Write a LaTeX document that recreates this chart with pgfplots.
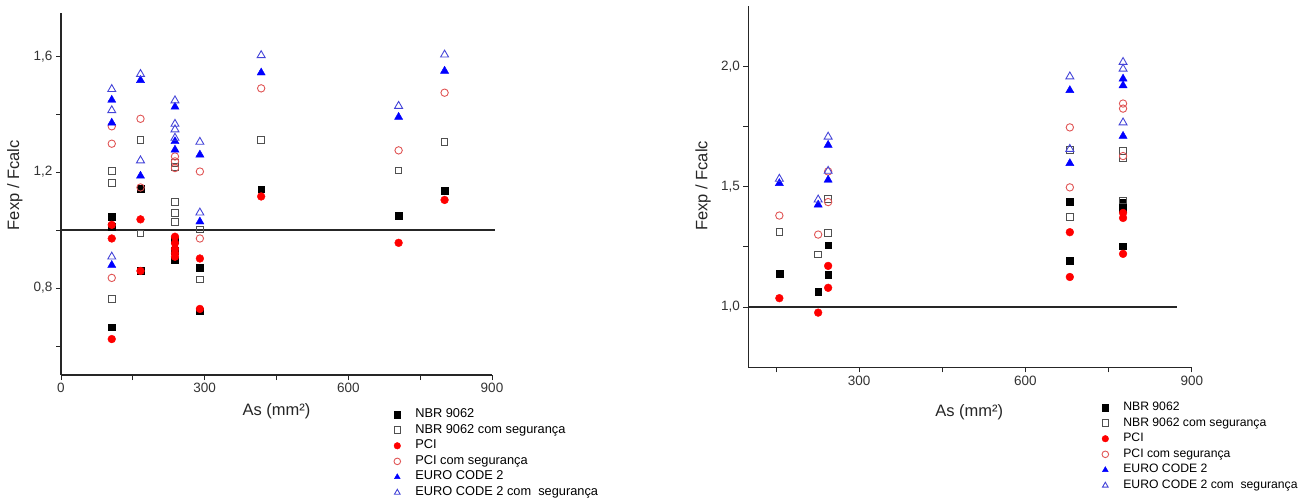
\documentclass[border=0pt]{standalone}
\usepackage{fontspec}
\setmainfont{Liberation Sans}
\usepackage{pgfplots}
\pgfplotsset{compat=1.18}

\definecolor{opengray}{HTML}{505050}
\definecolor{openred}{HTML}{E05555}
\definecolor{openblue}{HTML}{4444D8}

\pgfplotsset{
  ensaio/.style={
    scale only axis,
    axis lines*=left,
    tick align=outside,
    axis line style={line width=1.3pt, black!85},
    major tick length=5pt, minor tick length=5pt,
    tick style={line width=1pt, black!85},
    xlabel={As (mm²)}, ylabel={Fexp / Fcalc},
    tick label style={font=\fontsize{13.5}{15}\selectfont, text=black!80},
    label style={font=\fontsize{16.5}{18}\selectfont, text=black!85},
    /pgf/number format/assume math mode=true,
    /pgf/number format/1000 sep={},
    yticklabel style={/pgf/number format/fixed, /pgf/number format/fixed zerofill,
      /pgf/number format/precision=1, /pgf/number format/use comma},
    legend cell align=left,
    legend style={draw=none, fill=none, inner sep=0pt, anchor=north west,
      font=\fontsize{12.8}{14}\selectfont,
      nodes={inner sep=2pt, text height=8.5pt, text depth=2.5pt},
      row sep=0.6pt},
    legend image code/.code={%
      \path[draw=none, fill=none] (0pt,-4pt) rectangle (26pt,4pt);
      \draw[mark repeat=2,mark phase=2,##1,mark size=3.3pt] plot coordinates {(0pt,0pt)(10pt,0pt)(20pt,0pt)};},
    clip=false,
  },
  nbr/.style={only marks, mark=square*, mark size=3.4pt, black, mark options={solid, fill=black}},
  nbrs/.style={only marks, mark=square, mark size=3.3pt, opengray, mark options={solid, line width=0.9pt}},
  pci/.style={only marks, mark=*, mark size=3.9pt, red, mark options={solid, fill=red, draw=red}},
  pcis/.style={only marks, mark=o, mark size=3.7pt, openred, mark options={solid, line width=0.9pt}},
  ec/.style={only marks, mark=triangle*, mark size=4.7pt, blue, mark options={solid, fill=blue, draw=blue}},
  ecs/.style={only marks, mark=triangle, mark size=4.6pt, openblue, mark options={solid, line width=0.9pt}},
}

\begin{document}
\begin{tikzpicture}[x=1pt,y=1pt]
\useasboundingbox (0,0) rectangle (1306,499);

% esquerda
\begin{axis}[ensaio,
  at={(61pt,124pt)}, anchor=south west,
  width=431pt, height=362.3pt,
  xmin=0, xmax=900, ymin=0.5, ymax=1.75,
  xtick={0,300,600,900}, minor xtick={150,450,750},
  ytick={0.8,1.2,1.6}, minor ytick={0.6,1.0,1.4},
  xlabel style={at={(axis description cs:0.5,0)}, anchor=center, yshift=-36pt},
  ylabel style={at={(axis description cs:-0.107,0.524)}, anchor=center},
  legend style={at={(axis description cs:0.7566,-0.088)}},
]
\addplot[black!85, line width=1.8pt, forget plot] coordinates {(0,1) (907,1)};
\addplot[nbr] coordinates {
  (106,1.046) (106,1.013) (106,0.665) (166,1.142) (166,0.861)
  (238,0.965) (238,0.930) (238,0.896) (290,0.871) (290,0.720)
  (418,1.141) (705,1.049) (801,1.135)};
\addplot[nbrs] coordinates {
  (106,1.205) (106,1.162) (106,0.763) (166,1.312) (166,0.988)
  (238,1.231) (238,1.218) (238,1.098) (238,1.060) (238,1.029)
  (290,1.002) (290,0.829) (418,1.312) (705,1.206) (801,1.305)};
\addplot[pci] coordinates {
  (106,1.018) (106,0.971) (106,0.624) (166,1.037) (166,0.859)
  (238,0.977) (238,0.955) (238,0.935) (238,0.920) (238,0.908)
  (290,0.902) (290,0.728) (418,1.116) (705,0.956) (801,1.104)};
\addplot[pcis] coordinates {
  (106,1.358) (106,1.298) (106,0.835) (166,1.384) (166,1.147)
  (238,1.254) (238,1.237) (238,1.214) (290,1.202) (290,0.971)
  (418,1.489) (705,1.275) (801,1.474)};
\addplot[ec] coordinates {
  (106,1.449) (106,1.370) (106,0.879) (166,1.517) (166,1.187)
  (238,1.425) (238,1.306) (238,1.277) (290,1.260) (290,1.029)
  (418,1.543) (705,1.390) (801,1.549)};
\addplot[ecs] coordinates {
  (106,1.486) (106,1.413) (106,0.908) (166,1.538) (166,1.240)
  (238,1.447) (238,1.366) (238,1.347) (238,1.318) (290,1.304) (290,1.060)
  (418,1.603) (705,1.428) (801,1.605)};
\legend{NBR 9062, NBR 9062 com segurança, PCI, PCI com segurança, EURO CODE 2, EURO CODE 2 com\ \ segurança}
\end{axis}

% direita
\begin{axis}[ensaio,
  at={(748.3pt,131.7pt)}, anchor=south west,
  width=443.5pt, height=361.3pt,
  xmin=100, xmax=900, ymin=0.75, ymax=2.25,
  xtick={300,600,900}, minor xtick={150,450,750},
  ytick={1.0,1.5,2.0}, minor ytick={1.25,1.75},
  xlabel style={at={(axis description cs:0.498,0)}, anchor=center, yshift=-44.7pt},
  ylabel style={at={(axis description cs:-0.102,0.502)}, anchor=center},
  legend style={at={(axis description cs:0.782,-0.090)}, font=\fontsize{12.2}{14}\selectfont},
]
\addplot[black!85, line width=1.8pt, forget plot] coordinates {(100,1) (873,1)};
\addplot[nbr] coordinates {
  (156,1.140) (226,1.063) (244,1.257) (244,1.136)
  (680,1.439) (680,1.194) (776,1.432) (776,1.410) (776,1.253)};
\addplot[nbrs] coordinates {
  (156,1.311) (226,1.219) (244,1.448) (244,1.308)
  (680,1.652) (680,1.373) (776,1.649) (776,1.618) (776,1.442)};
\addplot[pci] coordinates {
  (156,1.037) (226,0.977) (244,1.171) (244,1.080)
  (680,1.311) (680,1.125) (776,1.391) (776,1.370) (776,1.221)};
\addplot[pcis] coordinates {
  (156,1.380) (226,1.301) (244,1.563) (244,1.436)
  (680,1.746) (680,1.497) (776,1.845) (776,1.824) (776,1.627)};
\addplot[ec] coordinates {
  (156,1.514) (226,1.425) (244,1.673) (244,1.528)
  (680,1.900) (680,1.597) (776,1.948) (776,1.920) (776,1.710)};
\addplot[ecs] coordinates {
  (156,1.532) (226,1.446) (244,1.707) (244,1.565)
  (680,1.957) (680,1.656) (776,2.017) (776,1.989) (776,1.766)};
\legend{NBR 9062, NBR 9062 com segurança, PCI, PCI com segurança, EURO CODE 2, EURO CODE 2 com\ \ segurança}
\end{axis}
\end{tikzpicture}
\end{document}
